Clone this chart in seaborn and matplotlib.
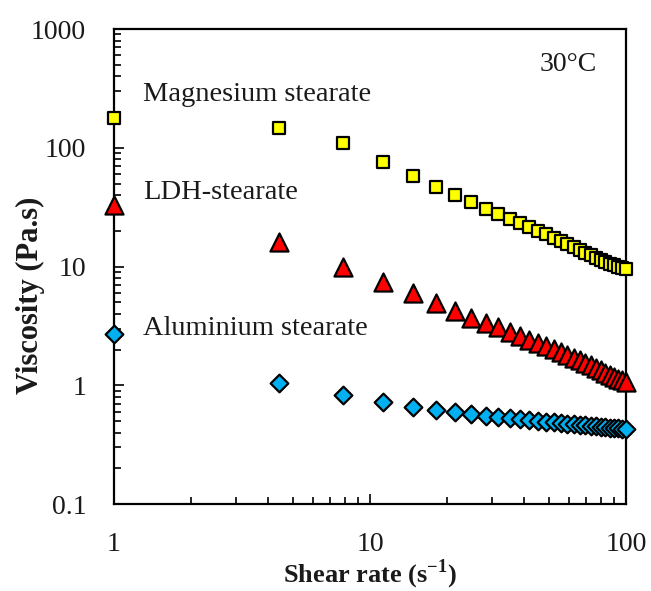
import matplotlib
matplotlib.use("Agg")
import matplotlib.pyplot as plt
import pandas as pd
import seaborn as sns
from matplotlib.ticker import FixedLocator, FixedFormatter, LogLocator, NullFormatter

# Shear rate sweep (s^-1) and viscosity (Pa.s) at 30 °C
shear_rate = [1.00, 4.41, 7.83, 11.24, 14.66, 18.07, 21.48, 24.90, 28.31, 31.72,
              35.14, 38.55, 41.97, 45.38, 48.79, 52.21, 55.62, 59.03, 62.45, 65.86,
              69.28, 72.69, 76.10, 79.52, 82.93, 86.34, 89.76, 93.17, 96.59, 100.00]
mg_stearate = [177, 146, 109, 76, 58, 47, 40, 35, 30.5, 27.8,
               25.3, 23.2, 21.5, 20.0, 18.7, 17.5, 16.4, 15.5, 14.6, 13.8,
               13.1, 12.5, 11.9, 11.4, 11.0, 10.6, 10.2, 9.9, 9.7, 9.5]
ldh_stearate = [33, 16.0, 10.0, 7.4, 6.0, 4.9, 4.25, 3.7, 3.35, 3.08,
                2.82, 2.60, 2.42, 2.27, 2.13, 2.01, 1.90, 1.80, 1.71, 1.62,
                1.54, 1.47, 1.40, 1.34, 1.28, 1.23, 1.18, 1.14, 1.10, 1.06]
al_stearate = [2.7, 1.05, 0.82, 0.72, 0.66, 0.62, 0.59, 0.57, 0.555, 0.54,
               0.53, 0.52, 0.51, 0.50, 0.495, 0.488, 0.481, 0.475, 0.47, 0.465,
               0.46, 0.455, 0.451, 0.447, 0.443, 0.44, 0.437, 0.434, 0.431, 0.428]

series_names = ["Magnesium stearate", "LDH-stearate", "Aluminium stearate"]
y_ticks = [0.1, 1, 10, 100, 1000]
y_tick_labels = ["0.1", "1", "10", "100", "1000"]
x_ticks = [1, 10, 100]
x_tick_labels = ["1", "10", "100"]

sns.set_style("white")
plt.rcParams["font.family"] = ["Liberation Serif", "DejaVu Serif"]
plt.rcParams["mathtext.fontset"] = "custom"
plt.rcParams["mathtext.rm"] = "Liberation Serif"
plt.rcParams["mathtext.bf"] = "Liberation Serif:bold"

TEXT = "#1a1a1a"
FS = 20

fig = plt.figure(figsize=(6.51, 5.91), dpi=100)
ax = fig.add_axes([0.1751, 0.1472, 0.7865, 0.8037])

styles = {
    "Magnesium stearate": dict(marker="s", color="#FFFF00", s=9.2 ** 2),
    "LDH-stearate": dict(marker="^", color="#FF0000", s=13.0 ** 2),
    "Aluminium stearate": dict(marker="D", color="#00B0F0", s=9.0 ** 2),
}
values = [mg_stearate, ldh_stearate, al_stearate]

for name, vals in zip(series_names, values):
    df = pd.DataFrame({"shear": shear_rate, "visc": vals})
    st = styles[name]
    sns.scatterplot(data=df, x="shear", y="visc", ax=ax, marker=st["marker"],
                    color=st["color"], s=st["s"], edgecolor="black",
                    linewidth=1.6, clip_on=False, zorder=5, legend=False)

ax.set_xscale("log")
ax.set_yscale("log")
ax.set_xlim(1, 100)
ax.set_ylim(0.1, 1000)

ax.xaxis.set_major_locator(FixedLocator(x_ticks))
ax.xaxis.set_major_formatter(FixedFormatter(x_tick_labels))
ax.yaxis.set_major_locator(FixedLocator(y_ticks))
ax.yaxis.set_major_formatter(FixedFormatter(y_tick_labels))
ax.xaxis.set_minor_locator(LogLocator(base=10, subs=range(2, 10)))
ax.yaxis.set_minor_locator(LogLocator(base=10, subs=range(2, 10)))
ax.xaxis.set_minor_formatter(NullFormatter())
ax.yaxis.set_minor_formatter(NullFormatter())

ax.tick_params(axis="both", which="both", direction="in", color="black",
               bottom=True, left=True, top=False, right=False,
               labelsize=FS, labelcolor=TEXT)
ax.tick_params(axis="both", which="major", length=7, width=1.2)
ax.tick_params(axis="both", which="minor", length=5, width=1.2)
ax.tick_params(axis="y", which="major", pad=20)
ax.tick_params(axis="x", which="major", pad=20)

for sp in ax.spines.values():
    sp.set_color("black")
    sp.set_linewidth(1.6)
    sp.set_visible(True)

ax.set_xlabel(r"Shear rate (s$^{\mathbf{-1}}$)", fontsize=19, fontweight="bold",
              color=TEXT)
ax.xaxis.set_label_coords(0.5, -0.112)
ax.set_ylabel("Viscosity (Pa.s)", fontsize=22, fontweight="bold", color=TEXT)
ax.yaxis.set_label_coords(-0.135, 0.44)

label_pos = {"Magnesium stearate": 280, "LDH-stearate": 42, "Aluminium stearate": 3.0}
for name in series_names:
    ax.text(1.3, label_pos[name], name, fontsize=20.5, color=TEXT,
            ha="left", va="center")

ax.text(0.943, 0.926, "30°C", transform=ax.transAxes, fontsize=FS,
        color=TEXT, ha="right", va="center")

fig.savefig("out.png", dpi=100, facecolor="white")
